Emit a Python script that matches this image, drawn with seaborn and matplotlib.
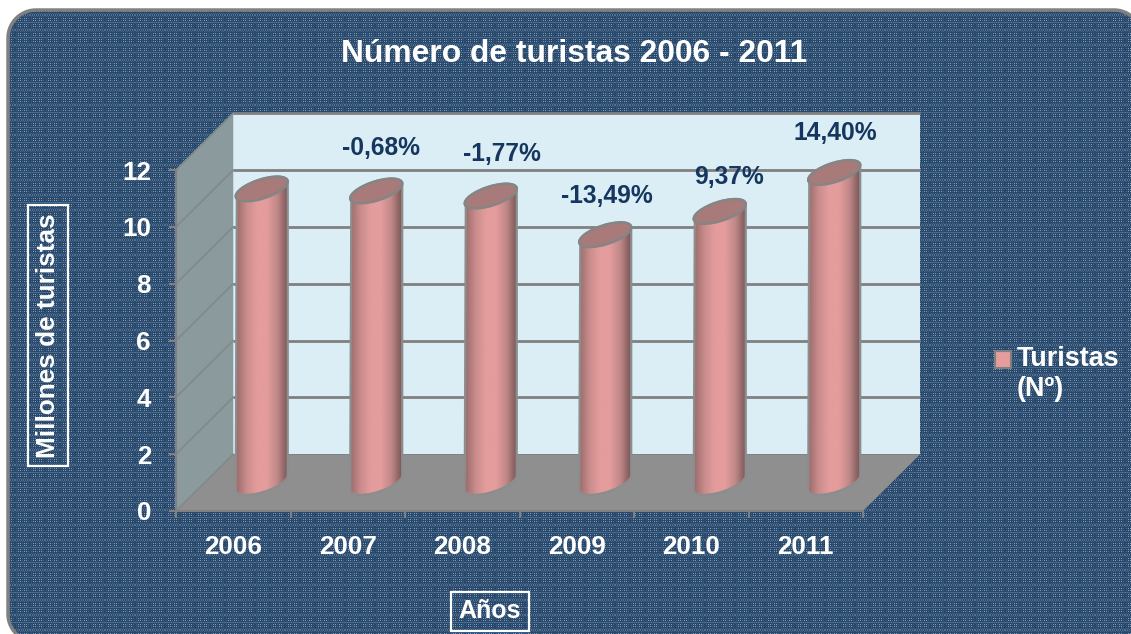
import numpy as np
import pandas as pd
import matplotlib
matplotlib.use("Agg")
import matplotlib.pyplot as plt
import seaborn as sns
from matplotlib.colors import LinearSegmentedColormap
from matplotlib.patches import Ellipse, Patch, Polygon
from matplotlib.transforms import IdentityTransform

# values
years = ["2006", "2007", "2008", "2009", "2010", "2011"]
turistas = [10.33, 10.26, 10.08, 8.72, 9.54, 10.91]
variacion = ["", "-0,68%", "-1,77%", "-13,49%", "9,37%", "14,40%"]
label_dx = [0, 5, 11, 2, 9, 1]  # px, labels are not quite centred in the original
label_dy = [0, 43, 42, 39, 34, 39]  # px above the cylinder top
y_ticks = [0, 2, 4, 6, 8, 10, 12]

W, H = 1131, 634
NAVY = "#15365f"
GREY = "#808080"
PINK = "#e49c9c"

sns.set_theme(style="white")
plt.rcParams["font.family"] = ["Liberation Sans", "DejaVu Sans"]
plt.rcParams["font.weight"] = "bold"


def px_axes(fig, left, top, right, bottom):
    return fig.add_axes([left / W, 1 - bottom / H, (right - left) / W, (bottom - top) / H])


def ellipse_points(cx, cy, a, b, angle, t):
    """Points of a tilted ellipse in pixel coordinates."""
    th = np.radians(angle)
    x = a * np.cos(t)
    y = b * np.sin(t)
    return np.column_stack([cx + x * np.cos(th) - y * np.sin(th), cy + x * np.sin(th) + y * np.cos(th)])


def rounded_panel(left, top, right, bottom, r):
    """Outline of a rounded rectangle, y axis pointing down."""
    t = np.linspace(0, np.pi / 2, 20)
    return np.vstack([
        np.column_stack([left + r - r * np.cos(t), top + r - r * np.sin(t)]),
        np.column_stack([right - r + r * np.sin(t), top + r - r * np.cos(t)]),
        np.column_stack([right - r + r * np.cos(t), bottom - r + r * np.sin(t)]),
        np.column_stack([left + r - r * np.sin(t), bottom - r + r * np.cos(t)]),
    ])


fig = plt.figure(figsize=(W / 100, H / 100), dpi=100, facecolor="white")

# background panel with the woven texture
ax_bg = fig.add_axes([0, 0, 1, 1])
ax_bg.set_xlim(0, W)
ax_bg.set_ylim(H, 0)
ax_bg.axis("off")
tile = np.zeros((15, 15))
tile[1::2, 1::2] = 0.22
tile[3:6:2, 3:6:2] = 0.7
tile[3:6:2, 9:12:2] = 0.7
tile[9:12:2, 3:6:2] = 0.7
tile[9:12:2, 9:12:2] = 0.7
tile[::7, ::2] = 0.35
texture = np.tile(tile, (H // 15 + 1, W // 15 + 1))[:H, :W]
weave = LinearSegmentedColormap.from_list("weave", ["#28486c", "#a9c0d4"])
img = ax_bg.imshow(texture, cmap=weave, vmin=0, vmax=1, extent=(0, W, H, 0), interpolation="nearest", aspect="auto")
panel = Polygon(rounded_panel(8, 10, 1142, 642, 28), closed=True, fc="none", ec="#808080", lw=2.5, zorder=3)
ax_bg.add_patch(panel)
img.set_clip_path(panel)

# front plane of the 3D box, real data scale
ax = px_axes(fig, 176, 170, 863, 511)
ax.patch.set_alpha(0)
ax.set_xlim(-0.5, 5.5)
ax.set_ylim(0, 12)
dx, dy = 0.5, 2  # depth of the box in data units

# back wall, side wall and floor
ax.add_patch(Polygon([(-0.5 + dx, dy), (5.5 + dx, dy), (5.5 + dx, 12 + dy), (-0.5 + dx, 12 + dy)],
                     fc="#dbeef6", ec="none", clip_on=False, zorder=0))
ax.add_patch(Polygon([(-0.5, 0), (-0.5 + dx, dy), (-0.5 + dx, 12 + dy), (-0.5, 12)],
                     fc="#8b9a9d", ec="none", clip_on=False, zorder=0.5))
ax.add_patch(Polygon([(-0.5, 0), (5.5, 0), (5.5 + dx, dy), (-0.5 + dx, dy)],
                     fc="#8f8f8f", ec="none", clip_on=False, zorder=0.6))
for t in y_ticks:
    if t > 0:
        ax.plot([-0.5 + dx, 5.5 + dx], [t + dy, t + dy], color=GREY, lw=2, clip_on=False, zorder=0.7,
                solid_capstyle="butt")
    ax.plot([-0.5, -0.5 + dx], [t, t + dy], color="#7f8a8c", lw=1.2, clip_on=False, zorder=0.7)

sns.despine(ax=ax, top=True, right=True)
for side in ["left", "bottom"]:
    ax.spines[side].set_color(GREY)
    ax.spines[side].set_linewidth(1.5)
ax.set_yticks(y_ticks)
ax.set_yticklabels([str(t) for t in y_ticks])
ax.set_xticks(np.arange(-0.5, 6, 1), minor=True)
ax.set_xticks(np.arange(6))
ax.set_xticklabels(years)
ax.tick_params(axis="x", which="minor", bottom=True, length=5, width=1.5, color=GREY, direction="out")
ax.tick_params(axis="x", which="major", bottom=False, length=0, pad=17.5, labelsize=18.7, labelcolor="white")
ax.tick_params(axis="y", left=True, length=5, width=1.5, color=GREY, direction="out", pad=13,
               labelsize=18.7, labelcolor="white")

# cylinders live half way into the box: same scale, shifted a quarter of the depth
ax_bars = px_axes(fig, 176 + 57 / 2, 170 - 28.5, 863 + 57 / 2, 511 - 28.5)
ax_bars.patch.set_alpha(0)
df = pd.DataFrame({"year": years, "turistas": turistas})
sns.barplot(data=df, x="year", y="turistas", ax=ax_bars, width=0.454, color=PINK, saturation=1, zorder=1)
ax_bars.set_xlim(-0.5, 5.5)
ax_bars.set_ylim(0, 12)
ax_bars.axis("off")

shade = LinearSegmentedColormap.from_list(
    "cyl", ["#9a6a6a", "#c98c8c", "#e49c9c", "#e49c9c", "#c08888", "#7a5656"])
fig.canvas.draw()
to_px = ax_bars.transData
to_px_identity = IdentityTransform()
A, B, TILT = 27.2, 9.5, 18  # end caps in pixels
for i, bar in enumerate(ax_bars.patches):
    x0, w, h = bar.get_x(), bar.get_width(), bar.get_height()
    bar.set_visible(False)
    (xl, yb), (xr, yt) = to_px.transform([(x0, 0), (x0 + w, h)])
    xc = (xl + xr) / 2

    # silhouette: lower half of the bottom cap, then the far half of the top cap
    t_bot = np.linspace(np.radians(170), np.radians(350), 40)
    t_top = np.linspace(np.radians(-10), np.radians(190), 40)
    outline = np.vstack([ellipse_points(xc, yb, A, B, TILT, t_bot), ellipse_points(xc, yt, A, B, TILT, t_top)])
    body = Polygon(outline, closed=True, transform=to_px_identity, fc="none", ec="#8d8d8d", lw=1.6,
                   zorder=3, clip_on=False)
    ax_bars.add_patch(body)
    grad = ax_bars.imshow(np.linspace(0, 1, 128)[None, :], cmap=shade, extent=(x0, x0 + w, -2, h + 2),
                          aspect="auto", zorder=2)
    grad.set_clip_box(fig.bbox)
    grad.set_clip_path(body)
    ax_bars.set_xlim(-0.5, 5.5)
    ax_bars.set_ylim(0, 12)

    # top end
    ax_bars.add_patch(Ellipse((xc, yt), 2 * A, 2 * B, angle=TILT, transform=to_px_identity,
                              fc="#a97a7a", ec="#858585", lw=1.8, zorder=4, clip_on=False))
    if variacion[i]:
        ax_bars.annotate(variacion[i], (x0 + w / 2, h), xytext=(label_dx[i], label_dy[i]),
                         textcoords="offset pixels", ha="center", va="center", fontsize=17.7,
                         color=NAVY, zorder=5, annotation_clip=False)

# title and boxed axis names
fig.text(574 / W, 1 - 54 / H, "Número de turistas 2006 - 2011", ha="center", va="center",
         fontsize=22.9, color="white")
box = dict(boxstyle="square,pad=0.3", fc="none", ec="white", lw=1.6)
fig.text(48 / W, 1 - 335.5 / H, "Millones de turistas", rotation=90, ha="center", va="center",
         fontsize=18.8, color="white", bbox=box)
fig.text(490 / W, 1 - 611 / H, "Años", ha="center", va="center", fontsize=18, color="white", bbox=box)

# legend, the swatch sits beside the first line of the label
leg = fig.legend(handles=[Patch(fc=PINK, ec=GREY, lw=1.5, label="Turistas\n(Nº)")],
                 loc="upper left", bbox_to_anchor=(995 / W, 1 - 346 / H), frameon=False,
                 fontsize=19.4, labelcolor="white", handlelength=0.6, handleheight=0.6,
                 handletextpad=0.2, borderpad=0, borderaxespad=0)
swatch = leg.legend_handles[0]
swatch.set_y(swatch.get_y() + 10.8)

fig.savefig("out.png", dpi=100, facecolor="white")
